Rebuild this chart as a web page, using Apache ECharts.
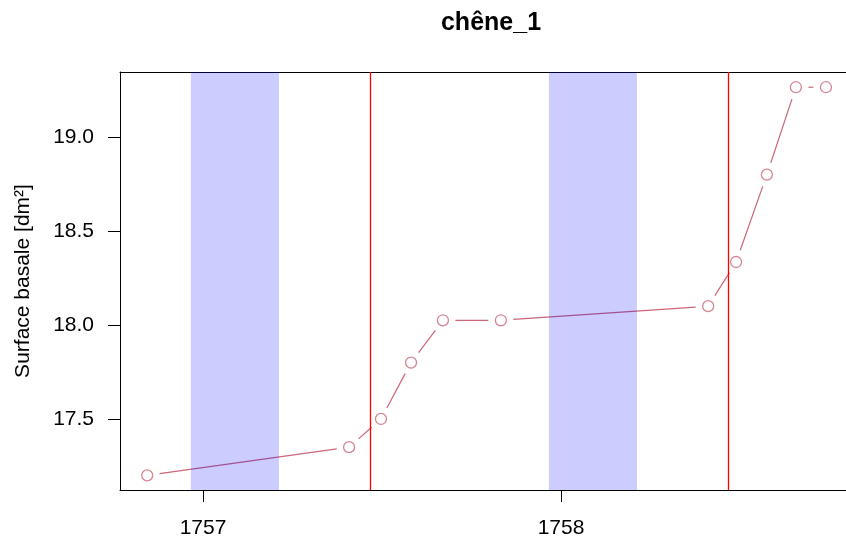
<!DOCTYPE html>
<html>
<head>
<meta charset="utf-8">
<script src="https://cdn.jsdelivr.net/npm/echarts@6/dist/echarts.min.js"></script>
<style>html,body{margin:0;padding:0;background:#fff}#c{width:846px;height:542px}</style>
</head>
<body>
<div id="c"></div>
<script>
// Data (decimal years, basal area in dm²)
var xYears = [1756.844, 1757.408, 1757.497, 1757.581, 1757.670, 1757.832, 1758.411, 1758.489, 1758.575, 1758.656, 1758.740];
var surface = [17.20, 17.35, 17.50, 17.80, 18.025, 18.025, 18.10, 18.335, 18.80, 19.265, 19.265];
var winterStart = [1756.966, 1757.966];
var winterEnd = [1757.212, 1758.212];
var solstice = [1757.467, 1758.466];
var xTicks = [1757, 1758];
var yTicks = [17.5, 18.0, 18.5, 19.0];

var pts = xYears.map(function (x, i) { return [x, surface[i]]; });
var segs = [];
for (var i = 0; i < pts.length - 1; i++) segs.push([pts[i][0], pts[i][1], pts[i + 1][0], pts[i + 1][1]]);

var COL = '#CC6677';
var GAP = 12.5;
var FONT = '"Liberation Sans", Arial, sans-serif';

var chart = echarts.init(document.getElementById('c'), null, { renderer: 'canvas' });
chart.setOption({
  animation: false,
  backgroundColor: '#fff',
  title: {
    text: 'chêne_1', left: 486, top: 6, textAlign: 'center',
    textStyle: { fontFamily: FONT, fontSize: 25, fontWeight: 'bold', color: '#000' }
  },
  grid: { left: 120, top: 72, right: 0, height: 418, show: false },
  xAxis: [{
    type: 'value', min: 1756.768, max: 1758.796,
    axisLine: { show: true, onZero: false, lineStyle: { color: '#000', width: 1 } },
    axisTick: { show: true, length: 12, customValues: xTicks, lineStyle: { color: '#000' } },
    axisLabel: { customValues: xTicks, margin: 28, fontFamily: FONT, fontSize: 21, color: '#000', formatter: function (v) { return String(Math.round(v)); } },
    splitLine: { show: false }
  }, {
    type: 'value', position: 'top', min: 1756.768, max: 1758.796,
    axisLine: { show: true, onZero: false, lineStyle: { color: '#000', width: 1 } },
    axisTick: { show: false }, axisLabel: { show: false }, splitLine: { show: false }
  }],
  yAxis: {
    type: 'value', min: 17.122, max: 19.346,
    name: 'Surface basale [dm²]', nameLocation: 'middle', nameRotate: 90, nameGap: 86,
    nameTextStyle: { fontFamily: FONT, fontSize: 21, color: '#000' },
    axisLine: { show: true, onZero: false, lineStyle: { color: '#000', width: 1 } },
    axisTick: { show: true, length: 12, customValues: yTicks, lineStyle: { color: '#000' } },
    axisLabel: { customValues: yTicks, margin: 26, fontFamily: FONT, fontSize: 21, color: '#000', formatter: function (v) { return v.toFixed(1); } },
    splitLine: { show: false }
  },
  series: [
    {
      type: 'custom', z: 2, silent: true,
      data: segs,
      encode: { x: [0, 2], y: [1, 3] },
      renderItem: function (params, api) {
        var p1 = api.coord([api.value(0), api.value(1)]);
        var p2 = api.coord([api.value(2), api.value(3)]);
        var dx = p2[0] - p1[0], dy = p2[1] - p1[1];
        var L = Math.sqrt(dx * dx + dy * dy);
        if (L <= 2 * GAP) return null;
        var ux = dx / L, uy = dy / L;
        return {
          type: 'line',
          shape: { x1: p1[0] + ux * GAP, y1: p1[1] + uy * GAP, x2: p2[0] - ux * GAP, y2: p2[1] - uy * GAP },
          style: { stroke: COL, lineWidth: 1.2 }
        };
      }
    },
    {
      type: 'scatter', z: 3, silent: true,
      data: pts,
      symbol: 'circle', symbolSize: 11,
      itemStyle: { color: 'rgba(255,255,255,0)', borderColor: COL, borderWidth: 1.3 }
    },
    {
      type: 'custom', z: 5, silent: true,
      data: winterStart.map(function (s, i) { return [s, winterEnd[i]]; }),
      encode: { x: [0, 1] },
      renderItem: function (params, api) {
        var a = api.coord([api.value(0), 18]);
        var b = api.coord([api.value(1), 18]);
        var cs = params.coordSys;
        return {
          type: 'rect',
          shape: { x: a[0], y: cs.y, width: b[0] - a[0], height: cs.height },
          style: { fill: 'rgba(0,0,255,0.2)' }
        };
      }
    },
    {
      type: 'custom', z: 6, silent: true,
      data: solstice.map(function (s) { return [s, 18]; }),
      encode: { x: 0, y: 1 },
      renderItem: function (params, api) {
        var p = api.coord([api.value(0), 18]);
        var cs = params.coordSys;
        var x = Math.round(p[0]) + 0.5;
        return {
          type: 'line',
          shape: { x1: x, y1: cs.y, x2: x, y2: cs.y + cs.height },
          style: { stroke: '#FF0000', lineWidth: 1.3 }
        };
      }
    }
  ]
});
</script>
</body>
</html>
